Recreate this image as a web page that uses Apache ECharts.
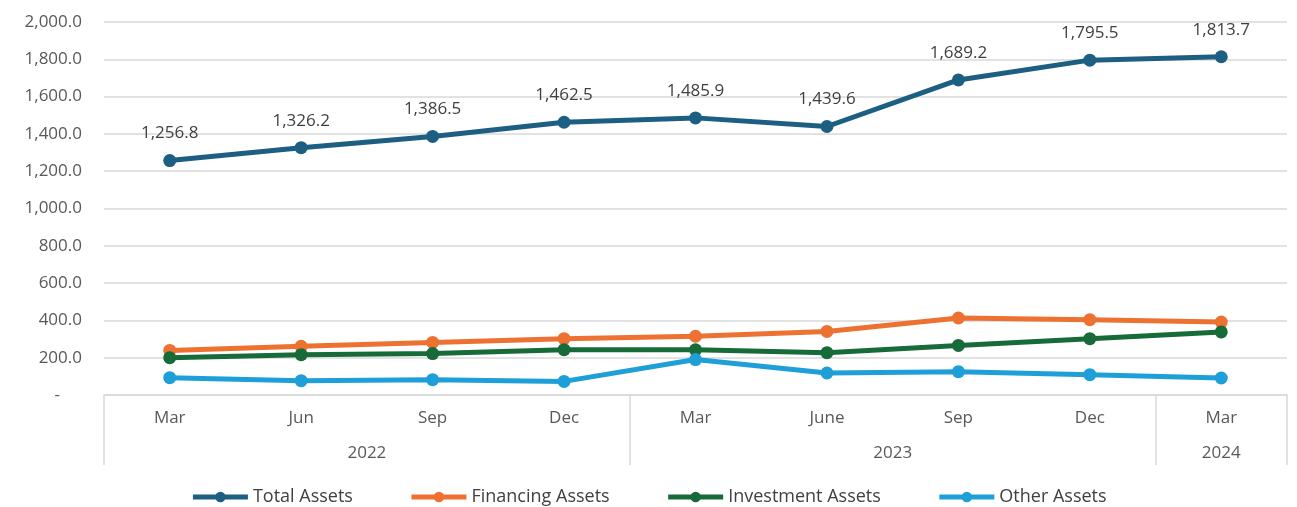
<!DOCTYPE html>
<html>
<head>
<meta charset="utf-8">
<script src="https://cdn.jsdelivr.net/npm/echarts@6/dist/echarts.min.js"></script>
<style>
html,body{margin:0;padding:0;background:#fff;}
#c{width:1297px;height:507px;}
</style>
</head>
<body>
<div id="c"></div>
<script>
const months = ['Mar','Jun','Sep','Dec','Mar','June','Sep','Dec','Mar'];
const years = ['2022','2023','2024'];
const yearSpans = [4,4,1];
const totalAssets = [1256.8,1326.2,1386.5,1462.5,1485.9,1439.6,1689.2,1795.5,1813.7];
const financingAssets = [239,261,282,302,315,341,413,404,391];
const investmentAssets = [200,216,222,243,242,227,266,302,338];
const otherAssets = [93,77,82,73,190,118,125,109,91];
const yTicks = {min:0, max:2000, interval:200};

const FONT = 'Open Sans';
const TXT = '#595959';
const GRID = '#d9d9d9';

const bounds = [0]; const centers = [];
yearSpans.reduce((acc, s) => { centers.push(acc + s/2); bounds.push(acc + s); return acc + s; }, 0);

function fmt(v){
  return v.toLocaleString('en-US',{minimumFractionDigits:1,maximumFractionDigits:1});
}

const chart = echarts.init(document.getElementById('c'), null, {renderer:'canvas'});
const mk = (name, data, color, label) => ({
  name, type:'line', data,
  xAxisIndex:0, yAxisIndex:0,
  symbol:'circle', symbolSize:13,
  lineStyle:{width:5, color},
  itemStyle:{color},
  label: label ? {show:true, position:'top', distance:12, color:'#404040', fontFamily:FONT, fontSize:17, formatter:p=>fmt(p.value)} : {show:false},
  emphasis:{disabled:true},
  animation:false
});

chart.setOption({
  backgroundColor:'#fff',
  animation:false,
  grid:{left:104, right:10, top:22, bottom:112, containLabel:false},
  legend:{
    top:483, left:'center',
    itemWidth:55, itemHeight:13, itemGap:56,
    lineStyle:{width:5},
    textStyle:{color:'#404040', fontFamily:FONT, fontSize:18},
    data:['Total Assets','Financing Assets','Investment Assets','Other Assets']
  },
  xAxis:[
    {
      type:'category', data:months, position:'bottom', boundaryGap:true,
      axisLine:{show:false}, axisTick:{show:false},
      axisLabel:{color:TXT, fontFamily:FONT, fontSize:17, margin:15, interval:0},
      splitLine:{show:false}
    },
    {
      type:'value', min:0, max:months.length, position:'bottom',
      axisLine:{show:true, lineStyle:{color:GRID, width:1.5}},
      axisTick:{show:true, length:70, customValues:bounds, lineStyle:{color:GRID, width:1.5}},
      axisLabel:{show:true, customValues:centers, margin:50, color:TXT, fontFamily:FONT, fontSize:17,
        formatter:(v)=>{ const i = centers.indexOf(v); return i>=0 ? years[i] : ''; }},
      splitLine:{show:false}
    }
  ],
  yAxis:{
    type:'value', min:yTicks.min, max:yTicks.max, interval:yTicks.interval,
    axisLine:{show:false}, axisTick:{show:false},
    axisLabel:{color:TXT, fontFamily:FONT, fontSize:17, margin:22,
      formatter:v=> v===0 ? '-     ' : fmt(v)},
    splitLine:{lineStyle:{color:GRID, width:1.5}}
  },
  series:[
    mk('Total Assets', totalAssets, '#1c5f83', true),
    mk('Financing Assets', financingAssets, '#ed7232', false),
    mk('Investment Assets', investmentAssets, '#176b38', false),
    mk('Other Assets', otherAssets, '#1e9fd8', false)
  ]
});
</script>
</body>
</html>
